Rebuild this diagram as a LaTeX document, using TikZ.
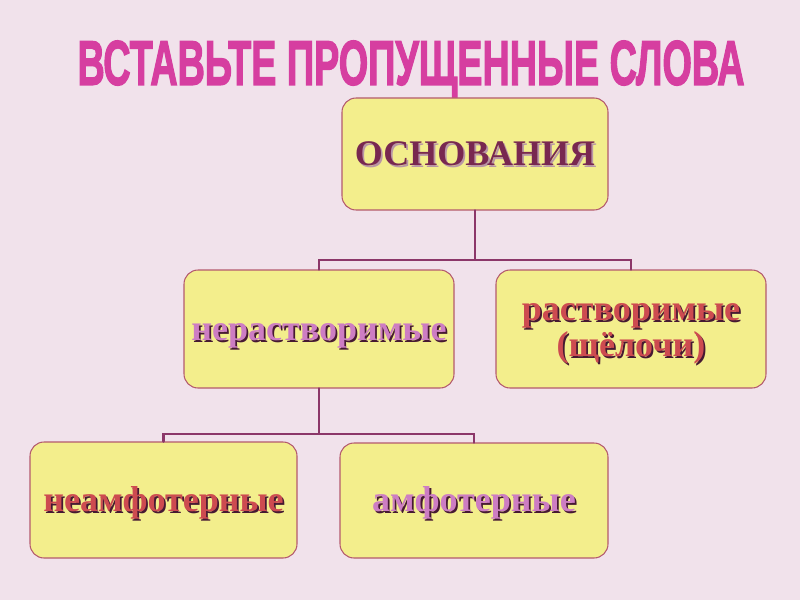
\documentclass[tikz,border=0pt]{standalone}
\usepackage{fontspec}
\setmainfont{Liberation Serif}
\newfontfamily\titlefont[BoldFeatures={FakeBold=2.5}]{Liberation Sans}
\usepackage{graphicx}

\definecolor{bgpink}{RGB}{241,226,235}
\definecolor{titlemag}{RGB}{214,62,160}
\definecolor{boxyel}{RGB}{243,238,140}
\definecolor{boxedge}{RGB}{180,90,110}
\definecolor{linkplum}{RGB}{140,55,105}
\definecolor{txtplum}{RGB}{120,40,80}
\definecolor{txtpink}{RGB}{205,125,195}
\definecolor{txtred}{RGB}{205,75,80}
\definecolor{shdark}{RGB}{70,25,50}
\definecolor{shlight}{RGB}{185,150,165}

\newcommand{\shtext}[3]{\rlap{\kern1pt\raisebox{-1pt}{\color{#2}#3}}{\color{#1}#3}}

\begin{document}
\begin{tikzpicture}[line cap=round,
  box/.style={draw=boxedge,line width=0.6pt,fill=boxyel,rounded corners=8pt,
    minimum width=5.36cm,minimum height=2.3cm,inner sep=0pt,align=center,
    text height=15pt,text depth=2.2pt,
    font=\bfseries\fontsize{20.5}{19}\selectfont},
  link/.style={draw=linkplum,line width=1.6pt}]
\fill[bgpink] (0,0) rectangle (16,12);
\useasboundingbox (0,0) rectangle (16,12);
\node[text=titlemag] (title) at (8.22,10.62)
  {\resizebox{13.34cm}{0.88cm}{\titlefont\bfseries ВСТАВЬТЕ ПРОПУЩЕННЫЕ СЛОВА}};
\node[box,minimum width=5.32cm,minimum height=2.24cm] (osn) at (9.5,8.92)
  {\shtext{txtplum}{shlight}{ОСНОВАНИЯ}};
\node[box,minimum width=5.4cm,minimum height=2.36cm] (nerast) at (6.38,5.42)
  {\shtext{txtpink}{shdark}{нерастворимые}};
\node[box,minimum width=5.4cm,minimum height=2.36cm,text height=34pt] (rast) at (12.62,5.42)
  {\shtext{txtred}{shdark}{растворимые}\\\shtext{txtred}{shdark}{(щёлочи)}};
\node[box,minimum width=5.34cm,minimum height=2.32cm] (neamf) at (3.27,2.0)
  {\shtext{txtred}{shdark}{неамфотерные}};
\node[box] (amf) at (9.48,1.99)
  {\shtext{txtpink}{shdark}{амфотерные}};
\coordinate (j1) at (9.5,6.8);
\coordinate (j2) at (6.38,3.32);
\draw[link] (osn) -- (j1) -| (nerast);
\draw[link] (j1) -| (rast);
\draw[link] (nerast) -- (j2) -| (neamf);
\draw[link] (j2) -| (amf);
\end{tikzpicture}
\end{document}
